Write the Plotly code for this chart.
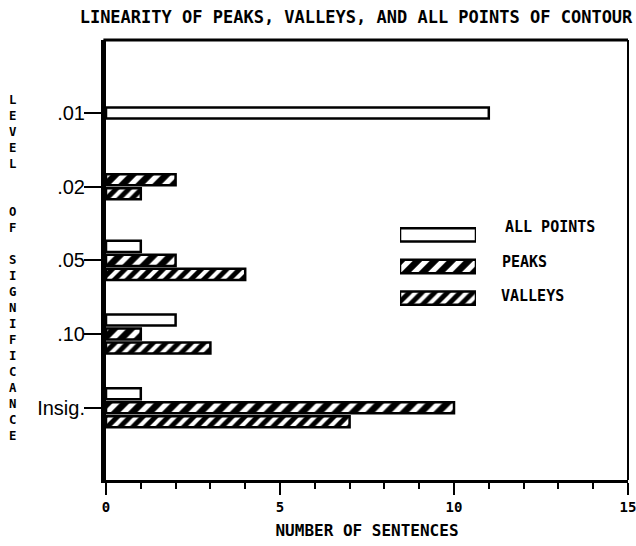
import plotly.graph_objects as go

# ---- data ----
levels = [".01", ".02", ".05", ".10", "Insig."]
all_points = [11, 0, 1, 2, 1]
peaks = [0, 2, 2, 1, 10]
valleys = [0, 1, 4, 3, 7]
series_names = ["ALL POINTS", "PEAKS", "VALLEYS"]
x_tick_vals = [0, 5, 10, 15]
x_tick_text = ["0", "5", "10", "15"]
y_title_words = ["LEVEL", "", "", "OF", "", "SIGNIFICANCE"]

# ---- layout geometry ----
W, H = 636, 546
L, R, T, B = 106, 8, 40, 66
PW, PH = W - L - R, H - T - B


def px_x(p):
    return (p - L) / PW


def px_y(p):
    return (T + PH - p) / PH


MONO = "DejaVu Sans Mono"
styles = {
    "ALL POINTS": dict(color="white"),
    "PEAKS": dict(color="black", pattern=dict(shape="/", fgcolor="white", bgcolor="black",
                                              size=12, solidity=0.45, fillmode="replace")),
    "VALLEYS": dict(color="black", pattern=dict(shape="/", fgcolor="white", bgcolor="black",
                                                size=9, solidity=0.45, fillmode="replace")),
}


def marker_for(name):
    st = styles[name]
    m = dict(color=st["color"], line=dict(color="black", width=2.5))
    if "pattern" in st:
        m["pattern"] = st["pattern"]
    return m


# bars of each level are packed (only non-empty ones), centred on the level
BAR_PITCH = 0.19   # category units between neighbouring bars
BAR_W = 0.15       # bar thickness in category units
series_vals = [all_points, peaks, valleys]
offsets = [[None] * len(levels) for _ in series_names]
for i in range(len(levels)):
    present = [s for s in range(len(series_names)) if series_vals[s][i]]
    n = len(present)
    for k, s in enumerate(present):
        centre = (k - (n - 1) / 2) * BAR_PITCH
        offsets[s][i] = centre - BAR_W / 2

fig = go.Figure()
for s, (name, vals) in enumerate(zip(series_names, series_vals)):
    fig.add_trace(go.Bar(x=[v if v else None for v in vals], y=levels, orientation="h",
                         name=name, marker=marker_for(name), showlegend=False,
                         width=BAR_W, offset=[o if o is not None else 0 for o in offsets[s]]))

# custom legend with long swatches (small inset axes)
for name in series_names:
    fig.add_trace(go.Bar(x=[1], y=[name], orientation="h", width=0.42,
                         marker=marker_for(name), showlegend=False, xaxis="x2", yaxis="y2",
                         hoverinfo="skip"))

fig.update_layout(
    width=W, height=H,
    margin=dict(l=L, r=R, t=T, b=B, autoexpand=False),
    paper_bgcolor="white", plot_bgcolor="white",
    barmode="overlay",
    title=dict(text="LINEARITY OF PEAKS, VALLEYS, AND ALL POINTS OF CONTOUR",
               x=356 / W, y=1 - 17 / H, xref="container", yref="container",
               xanchor="center", yanchor="middle",
               font=dict(family=MONO, size=17, color="black", weight="bold")),
    xaxis=dict(range=[0, 15], tickvals=x_tick_vals, ticktext=x_tick_text,
               showgrid=False, zeroline=False, ticklabeloverflow="allow", automargin=False,
               showline=True, linecolor="black", linewidth=3, mirror=False,
               ticks="outside", ticklen=12, tickwidth=2, tickcolor="black",
               minor=dict(dtick=1, ticks="outside", ticklen=6, tickwidth=2, tickcolor="black"),
               tickfont=dict(family=MONO, size=14, color="black", weight="bold"),
               title=dict(text="NUMBER OF SENTENCES", standoff=12,
                          font=dict(family=MONO, size=16, color="black", weight="bold"))),
    yaxis=dict(type="category", categoryorder="array", categoryarray=levels,
               range=[4.98, -0.99], showgrid=False, zeroline=False, automargin=False,
               showline=True, linecolor="black", linewidth=5,
               ticks="outside", ticklen=17, tickwidth=2, tickcolor="black",
               ticklabelstandoff=-5,
               tickfont=dict(family="Liberation Sans", size=20, color="black")),
    xaxis2=dict(domain=[px_x(400), px_x(476)], range=[0, 1], anchor="y2",
                visible=False, fixedrange=True),
    yaxis2=dict(domain=[px_y(314), px_y(219)], type="category", categoryorder="array",
                categoryarray=series_names, range=[2.5, -0.5], anchor="x2",
                visible=False, fixedrange=True),
)

# frame: top and right borders
fig.add_shape(type="line", xref="paper", yref="paper", x0=-0.005, x1=1, y0=1, y1=1,
              line=dict(color="black", width=3))
fig.add_shape(type="line", xref="paper", yref="paper", x0=1, x1=1, y0=0, y1=1,
              line=dict(color="black", width=2))

# legend labels
for name, (lx, ly) in zip(series_names, [(503, 227), (500, 262), (499, 296)]):
    fig.add_annotation(text=name, x=px_x(lx), y=px_y(ly), xref="paper", yref="paper",
                       xanchor="left", yanchor="middle", showarrow=False,
                       font=dict(family=MONO, size=15, color="black", weight="bold"))

# vertical stacked axis title (upright letters, one per row)
rows = []
for w in y_title_words:
    if w:
        rows.extend(list(w))
    else:
        rows.append("&nbsp;")
fig.add_annotation(text="<br>".join(rows), x=px_x(13), y=px_y(268), xref="paper", yref="paper",
                   xanchor="center", yanchor="middle", showarrow=False, align="center",
                   font=dict(family=MONO, size=12.3, color="black", weight="bold"))

fig.write_html("out.html", config={"displayModeBar": False},
               post_script="document.body.style.margin='0px';document.body.style.overflow='hidden';")
